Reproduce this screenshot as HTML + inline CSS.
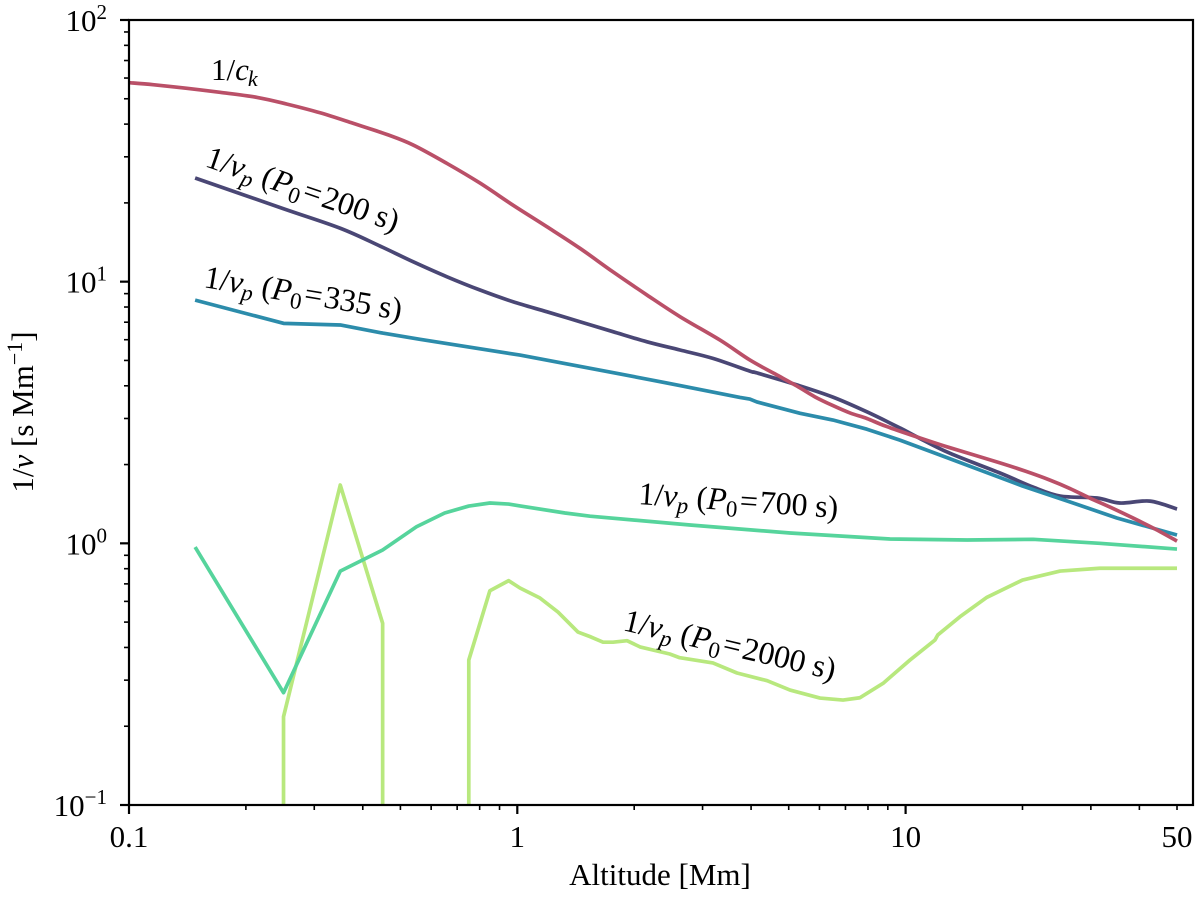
<!DOCTYPE html>
<html lang="en">
<head>
<meta charset="utf-8">
<title>1/v versus altitude</title>
<style>
html,body{margin:0;padding:0;background:#fff;}
svg{display:block;font-family:"Liberation Serif",serif;fill:#000;}
.it{font-style:italic;}
</style>
</head>
<body>
<svg id="chart" xmlns="http://www.w3.org/2000/svg" width="1200" height="897" viewBox="0 0 1200 897">
  <defs>
    <clipPath id="plot-clip"><rect x="129" y="20" width="1064" height="785"/></clipPath>
  </defs>
  <g id="series" clip-path="url(#plot-clip)"></g>
  <g id="ticks"></g>
  <rect x="129" y="20" width="1064" height="785" fill="none" stroke="#000" stroke-width="2.2"/>

  <text x="660" y="885" font-size="31" text-anchor="middle">Altitude [Mm]</text>
  <text transform="translate(33,412) rotate(-90)" font-size="31" text-anchor="middle">1/<tspan class="it">v</tspan> [s Mm<tspan dy="-11" font-size="22">−1</tspan><tspan dy="11">]</tspan></text>

  <text x="211" y="80" font-size="31">1/<tspan class="it">c</tspan><tspan class="it" dx="-1" dy="6" font-size="22">k</tspan></text>
  <text transform="translate(204,166) rotate(19)" font-size="32" textLength="202">1/<tspan class="it">v</tspan><tspan class="it" dy="6" font-size="23">p</tspan><tspan dy="-6"> (</tspan><tspan class="it">P</tspan><tspan dy="6" font-size="23">0</tspan><tspan dx="2" dy="-6">=</tspan><tspan dx="2">200 s)</tspan></text>
  <text transform="translate(203,287) rotate(9.5)" font-size="32" textLength="200">1/<tspan class="it">v</tspan><tspan class="it" dy="6" font-size="23">p</tspan><tspan dy="-6"> (</tspan><tspan class="it">P</tspan><tspan dy="6" font-size="23">0</tspan><tspan dx="2" dy="-6">=</tspan><tspan dx="2">335 s)</tspan></text>
  <text transform="translate(638,504) rotate(4)" font-size="32" textLength="200">1/<tspan class="it">v</tspan><tspan class="it" dy="6" font-size="23">p</tspan><tspan dy="-6"> (</tspan><tspan class="it">P</tspan><tspan dy="6" font-size="23">0</tspan><tspan dx="2" dy="-6">=</tspan><tspan dx="2">700 s)</tspan></text>
  <text transform="translate(622,630) rotate(13.3)" font-size="32" textLength="217">1/<tspan class="it">v</tspan><tspan class="it" dy="6" font-size="23">p</tspan><tspan dy="-6"> (</tspan><tspan class="it">P</tspan><tspan dy="6" font-size="23">0</tspan><tspan dx="2" dy="-6">=</tspan><tspan dx="2">2000 s)</tspan></text>
</svg>
<script>
// Chart data: altitude in Mm, 1/v in s/Mm
const soundAlt = [0.1,0.1153,0.141,0.1716,0.2138,0.2552,0.3105,0.3775,0.4618,0.5388,0.659,0.8017,0.975,1.193,1.45,1.764,2.158,2.624,3.327,3.97,4.61,5.25,5.84,6.5,7.19,7.95,8.85,10.7,13.0,17.5,20.3,23.5,26.5,29.8,33.6,38.5,43.9,50];
const soundVal = [57.6,56.6,54.8,52.9,50.6,47.7,44.2,40.3,36.5,33.3,28.3,23.8,19.6,16.2,13.41,10.9,8.89,7.35,5.98,5.02,4.44,3.99,3.63,3.36,3.15,3.0,2.81,2.55,2.32,2.03,1.889,1.746,1.62,1.49,1.376,1.25,1.134,1.02];

const p200Alt = [0.148,0.25,0.35,0.443,0.5388,0.659,0.8017,0.975,1.193,1.45,1.764,2.158,2.624,3.19,3.97,4.14,5.25,6.5,7.95,9.67,10.7,13.0,17.5,21.3,25.0,31.1,35.6,42.6,50];
const p200Val = [24.9,19.0,16.0,13.68,11.92,10.44,9.29,8.38,7.67,7.03,6.44,5.89,5.48,5.09,4.55,4.48,4.03,3.62,3.18,2.76,2.55,2.21,1.857,1.64,1.516,1.49,1.426,1.45,1.352];

const p335Alt = [0.148,0.25,0.35,0.45,0.5615,1.016,1.838,2.624,3.745,3.97,4.14,5.35,6.5,7.95,9.67,12.26,20.0,27.0,35,50];
const p335Val = [8.5,6.93,6.83,6.36,6.02,5.24,4.44,4.01,3.61,3.56,3.47,3.14,2.96,2.73,2.48,2.175,1.656,1.426,1.25,1.076];

const p700Alt = [0.148,0.25,0.35,0.45,0.55,0.65,0.75,0.85,0.95,1.016,1.327,1.54,2.785,5.04,9.12,14.4,21.3,31.6,50];
const p700Val = [0.968,0.2686,0.783,0.943,1.157,1.306,1.388,1.426,1.413,1.39,1.306,1.27,1.175,1.095,1.039,1.03,1.036,1.0,0.951];

// null marks the gap where the curve is undefined
const p2000Alt = [0.25,0.25,0.35,0.45,0.45,null,0.75,0.75,0.85,0.95,1.016,1.144,1.273,1.433,1.54,1.663,1.764,1.917,2.07,2.47,2.62,3.19,3.68,4.4,5.04,6.02,6.9,7.63,8.75,10.26,11.9,12.1,13.8,16.2,20.0,25,31.6,50];
const p2000Val = [0.1,0.2174,1.67,0.4947,0.1,null,0.1,0.358,0.659,0.72,0.675,0.618,0.546,0.458,0.44,0.419,0.419,0.4245,0.402,0.3776,0.3655,0.349,0.3195,0.2985,0.275,0.2563,0.2518,0.257,0.2917,0.358,0.427,0.4464,0.524,0.622,0.724,0.7835,0.803,0.803];

const xMajorTicks = [0.1,1,10];
const xMajorLabels = ["0.1","1","10"];
const xMinorTicks = [0.2,0.3,0.4,0.5,0.6,0.7,0.8,0.9,2,3,4,5,6,7,8,9,20,30,40,50];
const xMinorLabeled = [50];
const yMajorTicks = [0.1,1,10,100];
const yMajorExponents = ["−1","0","1","2"];
const yMinorFactors = [2,3,4,5,6,7,8,9];
const yMinorDecades = [0.1,1,10];

const NS = "http://www.w3.org/2000/svg";
const seriesLayer = document.getElementById("series");
const tickLayer = document.getElementById("ticks");

function xScale(a){ return 129 + 388.3 * (Math.log10(a) + 1); }
function yScale(v){ return 805 - 261.67 * (Math.log10(v) + 1); }

function linePath(alts, vals){
  let d = "";
  let pen = false;
  alts.forEach(function(a, i){
    if (a === null || vals[i] === null) { pen = false; return; }
    d += (pen ? "L" : "M") + xScale(a).toFixed(2) + " " + yScale(vals[i]).toFixed(2);
    pen = true;
  });
  return d;
}

// Catmull-Rom path through the data points, for the curves that are smooth in the reference
function smoothPath(alts, vals){
  const pts = alts.map(function(a, i){ return [xScale(a), yScale(vals[i])]; });
  let d = "M" + pts[0][0].toFixed(2) + " " + pts[0][1].toFixed(2);
  for (let i = 0; i < pts.length - 1; i++) {
    const p0 = pts[Math.max(i - 1, 0)];
    const p1 = pts[i];
    const p2 = pts[i + 1];
    const p3 = pts[Math.min(i + 2, pts.length - 1)];
    const c1x = p1[0] + (p2[0] - p0[0]) / 6;
    const c1y = p1[1] + (p2[1] - p0[1]) / 6;
    const c2x = p2[0] - (p3[0] - p1[0]) / 6;
    const c2y = p2[1] - (p3[1] - p1[1]) / 6;
    d += "C" + c1x.toFixed(2) + " " + c1y.toFixed(2) + " " + c2x.toFixed(2) + " " + c2y.toFixed(2) + " " + p2[0].toFixed(2) + " " + p2[1].toFixed(2);
  }
  return d;
}

function drawSeries(pathData, color, name){
  const p = document.createElementNS(NS, "path");
  p.setAttribute("d", pathData);
  p.setAttribute("fill", "none");
  p.setAttribute("stroke", color);
  p.setAttribute("stroke-width", "3.7");
  p.setAttribute("stroke-linejoin", "round");
  
  
  seriesLayer.appendChild(p);
}

drawSeries(smoothPath(p200Alt, p200Val), "#4a4775", "line-p200");
drawSeries(linePath(p335Alt, p335Val), "#2c8cab", "line-p335");
drawSeries(linePath(p2000Alt, p2000Val), "#b8e87e", "line-p2000");
drawSeries(linePath(p700Alt, p700Val), "#56d49c", "line-p700");
drawSeries(smoothPath(soundAlt, soundVal), "#ba5068", "line-sound-speed");

function tickLine(x1, y1, x2, y2, w, name){
  const l = document.createElementNS(NS, "line");
  l.setAttribute("x1", x1);
  l.setAttribute("y1", y1);
  l.setAttribute("x2", x2);
  l.setAttribute("y2", y2);
  l.setAttribute("stroke", "#000");
  l.setAttribute("stroke-width", w);
  
  
  tickLayer.appendChild(l);
}

xMajorTicks.forEach(function(t, i){
  const x = xScale(t);
  tickLine(x, 805, x, 814, 2.2, "x-major-tick");
  const label = document.createElementNS(NS, "text");
  label.setAttribute("x", x);
  label.setAttribute("y", 847);
  label.setAttribute("font-size", "31");
  label.setAttribute("text-anchor", "middle");
  
  
  label.textContent = xMajorLabels[i];
  tickLayer.appendChild(label);
});

xMinorTicks.forEach(function(t){
  const x = xScale(t);
  tickLine(x, 805, x, 810, 1.6, "x-minor-tick");
});

xMinorLabeled.forEach(function(t){
  const label = document.createElementNS(NS, "text");
  label.setAttribute("x", xScale(t));
  label.setAttribute("y", 847);
  label.setAttribute("font-size", "31");
  label.setAttribute("text-anchor", "middle");
  
  
  label.textContent = String(t);
  tickLayer.appendChild(label);
});

yMajorTicks.forEach(function(t, i){
  const y = yScale(t);
  tickLine(120, y, 129, y, 2.2, "y-major-tick");
  const label = document.createElementNS(NS, "text");
  label.setAttribute("x", 107);
  label.setAttribute("y", y + 11);
  label.setAttribute("font-size", "31");
  label.setAttribute("text-anchor", "end");
  
  
  const base = document.createElementNS(NS, "tspan");
  base.textContent = "10";
  const sup = document.createElementNS(NS, "tspan");
  sup.setAttribute("dy", "-12");
  sup.setAttribute("font-size", "21");
  sup.textContent = yMajorExponents[i];
  label.appendChild(base);
  label.appendChild(sup);
  tickLayer.appendChild(label);
});

yMinorDecades.forEach(function(d){
  yMinorFactors.forEach(function(f){
    const y = yScale(d * f);
    tickLine(124, y, 129, y, 1.6, "y-minor-tick");
  });
});
</script>
</body>
</html>
